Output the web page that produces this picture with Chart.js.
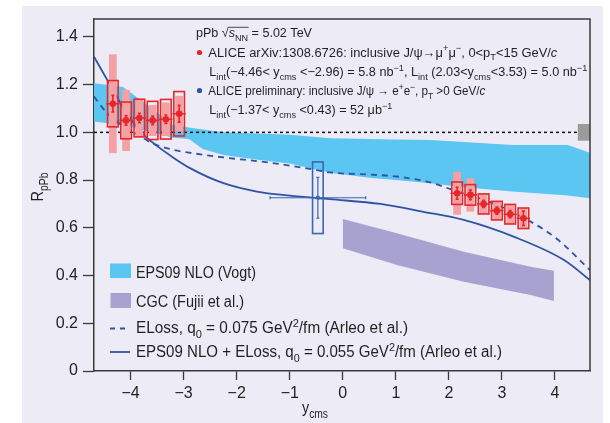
<!DOCTYPE html>
<html>
<head>
<meta charset="utf-8">
<script src="https://cdn.jsdelivr.net/npm/chart.js@4.4.1/dist/chart.umd.min.js"></script>
<style>
    html, body { margin: 0; padding: 0; background: #fff; }
    #c { display: block; }
</style>
</head>
<body>
<canvas id="c" width="610" height="423"></canvas>
<script>
// --- data ---
const xTicks = [-4, -3, -2, -1, 0, 1, 2, 3, 4];
const yTicks = [0, 0.2, 0.4, 0.6, 0.8, 1.0, 1.2, 1.4];

// ALICE, backward rapidity (-4.46 < y < -2.96)
const bwdY = [-4.335, -4.085, -3.835, -3.585, -3.335, -3.085];
const bwdR = [1.12, 1.05, 1.06, 1.05, 1.055, 1.078];
const bwdStat = [0.035, 0.02, 0.02, 0.018, 0.018, 0.035];
const bwdSyst = [0.097, 0.077, 0.079, 0.08, 0.083, 0.093];
const bwdCorr = [0.207, 0.128, 0.079, 0.065, 0.07, 0.075];

// ALICE, forward rapidity (2.03 < y < 3.53)
const fwdY = [2.155, 2.405, 2.655, 2.905, 3.155, 3.405];
const fwdR = [0.745, 0.738, 0.70, 0.672, 0.657, 0.64];
const fwdStat = [0.025, 0.02, 0.015, 0.015, 0.015, 0.03];
const fwdSyst = [0.047, 0.043, 0.042, 0.039, 0.041, 0.043];
const fwdCorr = [0.09, 0.07, 0.042, 0.039, 0.041, 0.043];
const binHalf = 0.125;

// ALICE preliminary, mid rapidity (-1.37 < y < 0.43)
const midY = [-0.47];
const midR = [0.726];
const midStat = [0.085];
const midSyst = [0.15];
const midLo = [-1.37];
const midHi = [0.43];

const globalUnc = 0.035;

// EPS09 NLO (Vogt) band
const epsX = [-4.69, -4.14, -3.6, -3.2, -2.9, -2.64, -2.25, -1.6, -1.0, -0.24, 0.5, 1.0, 1.65, 2.28, 3.2, 4.24, 4.66];
const epsHi = [1.206, 1.19, 1.10, 1.031, 1.02, 1.012, 1.0, 0.995, 0.99, 0.975, 0.972, 0.97, 0.968, 0.96, 0.947, 0.947, 0.915];
const epsLo = [1.045, 1.03, 1.0, 0.977, 0.972, 0.93, 0.905, 0.885, 0.87, 0.831, 0.81, 0.80, 0.787, 0.77, 0.752, 0.735, 0.724];

// CGC (Fujii et al.) band
const cgcX = [0, 1.02, 2.28, 3.54, 3.98];
const cgcHi = [0.637, 0.577, 0.50, 0.437, 0.42];
const cgcLo = [0.514, 0.444, 0.374, 0.318, 0.293];

// ELoss q0 = 0.075 (dashed)
const elX = [-4.69, -4.46, -4.1, -3.82, -3.6, -3.22, -2.81, -2.25, -1.38, -0.5, -0.24, 0.5, 1.02, 1.65, 2.03, 2.81, 3.54, 4.04, 4.66];
const elR = [1.15, 1.085, 1.02, 0.985, 0.955, 0.928, 0.912, 0.895, 0.873, 0.842, 0.832, 0.823, 0.815, 0.79, 0.762, 0.705, 0.626, 0.553, 0.423];

// EPS09 NLO + ELoss q0 = 0.055 (solid)
const epsElX = [-4.69, -4.39, -4.1, -3.82, -3.6, -3.2, -2.88, -2.25, -1.62, -1.0, -0.24, 0.71, 1.5, 2.28, 3.22, 4.17, 4.66];
const epsElR = [1.317, 1.2, 1.09, 1.005, 0.96, 0.895, 0.85, 0.787, 0.752, 0.735, 0.72, 0.70, 0.668, 0.633, 0.563, 0.465, 0.381];

// --- styling ---
const FONT = '"Liberation Sans", Arial, sans-serif';
const TEXT = '#231f20';
const RED = '#e8262a';
const PINK = '#f5a0a3';
const BLUE = '#2f54a3';
const CYAN = '#5bc6f1';
const PURPLE = '#a8a2d0';
const BG = '#ecebf6';

const pts = (xs, ys) => xs.map((x, i) => ({ x: x, y: ys[i] }));

function segFont(k, size) {
    let fs = size, style = '';
    if (k === 'sub' || k === 'sup') fs = size * 0.72;
    if (k === 'it') style = 'italic ';
    return style + fs + 'px ' + FONT;
}

// draws text made of [string, kind] pieces (kind: '', 'sub', 'sup', 'it'),
// squeezed horizontally to span `width` px (the original uses a condensed face)
function rich(ctx, x, y, parts, size, width) {
    let natural = 0;
    for (const [t, k] of parts) {
        ctx.font = segFont(k, size);
        natural += ctx.measureText(t).width;
    }
    const sx = width ? width / natural : 1;
    const starts = [];
    ctx.save();
    ctx.translate(x, y);
    ctx.scale(sx, 1);
    ctx.fillStyle = TEXT;
    ctx.textAlign = 'left';
    ctx.textBaseline = 'alphabetic';
    let cx = 0;
    for (const [t, k] of parts) {
        let dy = 0;
        if (k === 'sub') dy = size * 0.3;
        if (k === 'sup') dy = -size * 0.42;
        ctx.font = segFont(k, size);
        starts.push(x + cx * sx);
        ctx.fillText(t, cx, dy);
        cx += ctx.measureText(t).width;
    }
    ctx.restore();
    starts.push(x + cx * sx);
    return starts;
}

function drawGroup(chart, g) {
    const { ctx, scales: { x, y } } = chart;
    ctx.save();
    for (let i = 0; i < g.xs.length; i++) {
        const cx = x.getPixelForValue(g.xs[i]);
        const cy = y.getPixelForValue(g.rs[i]);
        if (g.corr) {
            const l = x.getPixelForValue(g.xs[i] - 0.073);
            const r = x.getPixelForValue(g.xs[i] + 0.073);
            const t = y.getPixelForValue(g.rs[i] + g.corr[i]);
            const b = y.getPixelForValue(g.rs[i] - g.corr[i]);
            ctx.fillStyle = PINK;
            ctx.fillRect(l, t, r - l, b - t);
        }
        const l = x.getPixelForValue(g.xs[i] - 0.1);
        const r = x.getPixelForValue(g.xs[i] + 0.1);
        const t = y.getPixelForValue(g.rs[i] + g.syst[i]);
        const b = y.getPixelForValue(g.rs[i] - g.syst[i]);
        ctx.strokeStyle = g.color;
        ctx.lineWidth = 1.6;
        ctx.strokeRect(l, t, r - l, b - t);

        // statistical error
        const st = y.getPixelForValue(g.rs[i] + g.stat[i]);
        const sb = y.getPixelForValue(g.rs[i] - g.stat[i]);
        ctx.lineWidth = g.thin ? 1.2 : 1.6;
        ctx.beginPath();
        ctx.moveTo(cx, st); ctx.lineTo(cx, sb);
        ctx.moveTo(cx - 1.5, st); ctx.lineTo(cx + 1.5, st);
        ctx.moveTo(cx - 1.5, sb); ctx.lineTo(cx + 1.5, sb);
        // bin width
        const hl = x.getPixelForValue(g.lo ? g.lo[i] : g.xs[i] - binHalf);
        const hr = x.getPixelForValue(g.hi ? g.hi[i] : g.xs[i] + binHalf);
        ctx.moveTo(hl, cy); ctx.lineTo(hr, cy);
        if (g.thin) {
            ctx.moveTo(hl, cy - 1.5); ctx.lineTo(hl, cy + 1.5);
            ctx.moveTo(hr, cy - 1.5); ctx.lineTo(hr, cy + 1.5);
        }
        ctx.stroke();
    }
    ctx.restore();
}

const decorPlugin = {
    id: 'decor',
    beforeDraw(chart) {
        const ctx = chart.ctx;
        ctx.save();
        ctx.fillStyle = BG;
        ctx.fillRect(22, 6, 581, 417);
        ctx.restore();
    },
    beforeDatasetDraw(chart, args) {
        const ds = chart.data.datasets[args.index];
        if (ds.errors) drawGroup(chart, ds.errors);
        if (ds.id === 'unity') {
            // global normalisation uncertainty box at R = 1
            const { ctx, chartArea, scales: { x, y } } = chart;
            const l = x.getPixelForValue(4.43);
            const t = y.getPixelForValue(1 + globalUnc);
            const b = y.getPixelForValue(1 - globalUnc);
            ctx.save();
            ctx.fillStyle = '#9b9b9b';
            ctx.fillRect(l, t, chartArea.right - l, b - t);
            ctx.restore();
        }
    },
    afterDraw(chart) {
        const { ctx, chartArea: a } = chart;
        ctx.save();
        // frame top + right
        ctx.strokeStyle = '#3a3a3a';
        ctx.lineWidth = 1.5;
        ctx.beginPath();
        ctx.moveTo(a.left, a.top);
        ctx.lineTo(a.right, a.top);
        ctx.lineTo(a.right, a.bottom);
        ctx.stroke();

        // top-right legend
        const s1 = rich(ctx, 196, 37.3, [['pPb '], ['\u221a'], ['s', 'it'], ['NN', 'sub'], [' = 5.02 TeV']], 12.5, 116);
        ctx.strokeStyle = TEXT;
        ctx.lineWidth = 0.8;
        ctx.beginPath();
        ctx.moveTo(s1[2] - 0.5, 27.3); ctx.lineTo(s1[4] + 0.5, 27.3);
        ctx.stroke();

        ctx.fillStyle = RED;
        ctx.beginPath(); ctx.arc(199.5, 52.5, 2.6, 0, Math.PI * 2); ctx.fill();
        rich(ctx, 208.3, 56.7, [['ALICE arXiv:1308.6726: inclusive J/\u03c8\u2192\u03bc'], ['+', 'sup'], ['\u03bc'], ['\u2212', 'sup'],
            [', 0<p'], ['T', 'sub'], ['<15 GeV/'], ['c', 'it']], 12.5, 349);
        rich(ctx, 209.3, 76, [['L'], ['int', 'sub'], ['(\u22124.46< y'], ['cms', 'sub'], [' <\u22122.96) = 5.8 nb'], ['\u22121', 'sup'],
            [', L'], ['int', 'sub'], [' (2.03<y'], ['cms', 'sub'], ['<3.53) = 5.0 nb'], ['\u22121', 'sup']], 12.5, 378);
        ctx.fillStyle = BLUE;
        ctx.beginPath(); ctx.arc(199.5, 90.5, 2.6, 0, Math.PI * 2); ctx.fill();
        rich(ctx, 208.3, 95, [['ALICE preliminary: inclusive J/\u03c8 \u2192 e'], ['+', 'sup'], ['e'], ['\u2212', 'sup'],
            [', p'], ['T', 'sub'], [' >0 GeV/'], ['c', 'it']], 12.5, 277);
        rich(ctx, 209.3, 114.3, [['L'], ['int', 'sub'], ['(\u22121.37< y'], ['cms', 'sub'], [' <0.43) = 52 \u03bcb'], ['\u22121', 'sup']], 12.5, 183);

        // bottom-left legend
        ctx.fillStyle = CYAN;
        ctx.fillRect(110, 263.5, 21, 14.5);
        ctx.fillStyle = PURPLE;
        ctx.fillRect(110.5, 293, 20.5, 15);
        ctx.strokeStyle = BLUE;
        ctx.lineWidth = 1.8;
        ctx.setLineDash([5, 5]);
        ctx.beginPath(); ctx.moveTo(110, 328.5); ctx.lineTo(128, 328.5); ctx.stroke();
        ctx.setLineDash([]);
        ctx.beginPath(); ctx.moveTo(110, 352); ctx.lineTo(130, 352); ctx.stroke();
        rich(ctx, 136, 277.7, [['EPS09 NLO (Vogt)']], 16, 120);
        rich(ctx, 136, 306.7, [['CGC (Fujii et al.)']], 16, 108);
        rich(ctx, 136, 333.3, [['ELoss, q'], ['0', 'sub'], [' = 0.075 GeV'], ['2', 'sup'], ['/fm (Arleo et al.)']], 16, 272);
        rich(ctx, 136, 357.3, [['EPS09 NLO + ELoss, q'], ['0', 'sub'], [' = 0.055 GeV'], ['2', 'sup'], ['/fm (Arleo et al.)']], 16, 366);

        // axis titles
        rich(ctx, 302, 413, [['y'], ['cms', 'sub']], 17, 26);
        ctx.translate(42.5, 201.5);
        ctx.rotate(-Math.PI / 2);
        rich(ctx, 0, 0, [['R'], ['pPb', 'sub']], 17, 29);
        ctx.restore();
    }
};

const curve = (label, xs, ys, dash, order) => ({
    label: label,
    type: 'line',
    data: pts(xs, ys),
    borderColor: BLUE,
    borderWidth: 1.8,
    borderDash: dash,
    pointRadius: 0,
    fill: false,
    cubicInterpolationMode: 'monotone',
    order: order
});

const band = (label, xs, ys, fill, color) => ({
    label: label,
    type: 'line',
    data: pts(xs, ys),
    borderColor: 'rgba(0,0,0,0)',
    borderWidth: 0,
    backgroundColor: color,
    pointRadius: 0,
    fill: fill,
    tension: 0,
    order: 10
});

const chart = new Chart(document.getElementById('c'), {
    type: 'scatter',
    data: {
        datasets: [
            band('EPS09 hi', epsX, epsHi, '+1', CYAN),
            band('EPS09 lo', epsX, epsLo, false, CYAN),
            band('CGC hi', cgcX, cgcHi, '+1', PURPLE),
            band('CGC lo', cgcX, cgcLo, false, PURPLE),
            {
                id: 'unity',
                label: 'unity',
                type: 'line',
                data: [{ x: -4.69, y: 1 }, { x: 4.43, y: 1 }],
                borderColor: '#111',
                borderWidth: 1.5,
                borderDash: [3, 3],
                pointRadius: 0,
                fill: false,
                order: 8
            },
            curve('ELoss q0 = 0.075', elX, elR, [6, 5], 7),
            curve('EPS09 NLO + ELoss q0 = 0.055', epsElX, epsElR, [], 7),
            {
                label: 'ALICE backward',
                data: pts(bwdY, bwdR),
                errors: { xs: bwdY, rs: bwdR, stat: bwdStat, syst: bwdSyst, corr: bwdCorr, color: RED },
                pointStyle: 'circle',
                pointRadius: 3.3,
                backgroundColor: RED,
                borderWidth: 0,
                order: 2
            },
            {
                label: 'ALICE forward',
                data: pts(fwdY, fwdR),
                errors: { xs: fwdY, rs: fwdR, stat: fwdStat, syst: fwdSyst, corr: fwdCorr, color: RED },
                pointStyle: 'circle',
                pointRadius: 3.3,
                backgroundColor: RED,
                borderWidth: 0,
                order: 2
            },
            {
                label: 'ALICE preliminary',
                data: pts(midY, midR),
                errors: { xs: midY, rs: midR, stat: midStat, syst: midSyst, lo: midLo, hi: midHi, color: '#3a66b5', thin: true },
                pointStyle: 'rect',
                pointRadius: 2.6,
                backgroundColor: '#3a66b5',
                borderWidth: 0,
                order: 2
            }
        ]
    },
    options: {
        responsive: false,
        devicePixelRatio: 1,
        animation: false,
        layout: { padding: { top: 19, right: 20, left: 0, bottom: 0 } },
        plugins: {
            legend: { display: false },
            tooltip: { enabled: false }
        },
        scales: {
            x: {
                type: 'linear',
                min: -4.69,
                max: 4.66,
                afterBuildTicks: s => { s.ticks = xTicks.map(v => ({ value: v })); },
                afterFit: s => { s.height = 52; },
                grid: { drawOnChartArea: false, tickLength: 9, color: '#3a3a3a', tickWidth: 1.3 },
                border: { color: '#3a3a3a', width: 1.5 },
                ticks: {
                    color: TEXT,
                    padding: 4,
                    maxRotation: 0,
                    font: { family: FONT, size: 16 },
                    callback: v => (v < 0 ? '\u2212' + Math.abs(v) : String(v))
                }
            },
            y: {
                type: 'linear',
                min: 0,
                max: 1.475,
                afterBuildTicks: s => { s.ticks = yTicks.map(v => ({ value: v })); },
                afterFit: s => { s.width = 94; },
                grid: { drawOnChartArea: false, tickLength: 11, color: '#3a3a3a', tickWidth: 1.3 },
                border: { color: '#3a3a3a', width: 1.5 },
                ticks: {
                    color: TEXT,
                    padding: 5,
                    font: { family: FONT, size: 16 },
                    callback: v => (v === 0 ? '0' : v.toFixed(1))
                }
            }
        }
    },
    plugins: [decorPlugin]
});
</script>
</body>
</html>
